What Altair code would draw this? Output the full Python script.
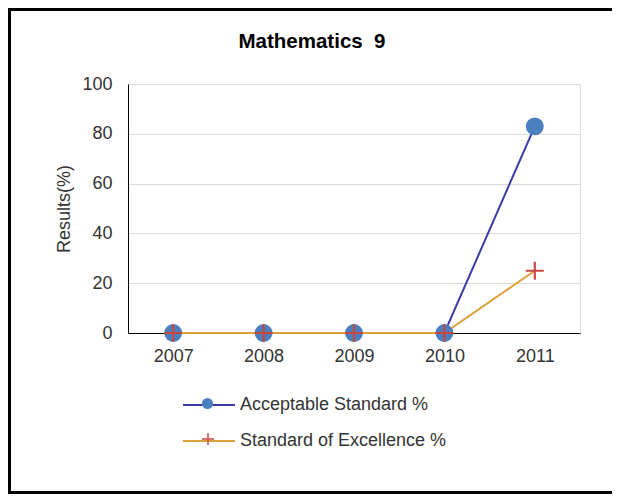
import altair as alt
import pandas as pd

years = ["2007", "2008", "2009", "2010", "2011"]
series_names = ["Acceptable Standard %", "Standard of Excellence %"]
acceptable = [0, 0, 0, 0, 83]
excellence = [0, 0, 0, 0, 25]

rows = []
for i, y in enumerate(years):
    rows.append({"year": y, "series": series_names[0], "value": acceptable[i]})
for i, y in enumerate(years):
    rows.append({"year": y, "series": series_names[1], "value": excellence[i]})
df = pd.DataFrame(rows)
df["circ"] = df["series"]
df["cross"] = df["series"]

FONT = "Liberation Sans"
line_colors = ["#3c3ca6", "#dba23c"]
circle_color = "#4a80c0"
cross_color = "#c8453e"
plus_path = "M-1,-0.12L1,-0.12L1,0.12L-1,0.12Z M-0.12,-1L0.12,-1L0.12,1L-0.12,1Z"

W, H = 452, 249
PL, PT = 120, 76

x_enc = alt.X("year:N", title=None, sort=years,
              scale=alt.Scale(type="point", padding=0.5),
              axis=alt.Axis(labelAngle=0, ticks=False, domainColor="#000000",
                            labelFontSize=18, labelColor="#333333", labelFont=FONT,
                            labelPadding=14, grid=False))
y_enc = alt.Y("value:Q", title="Results(%)",
              scale=alt.Scale(domain=[0, 100], nice=False),
              axis=alt.Axis(values=[0, 20, 40, 60, 80, 100], ticks=False,
                            domainColor="#000000", gridColor="#d9d9d9",
                            labelFontSize=18, labelColor="#333333", labelFont=FONT,
                            labelPadding=16, titleFontSize=18, titleFont=FONT,
                            titleFontWeight="normal", titleColor="#333333",
                            titlePadding=8))

lines = alt.Chart(df).mark_line(strokeWidth=2).encode(
    x=x_enc, y=y_enc,
    stroke=alt.Stroke("series:N", sort=series_names,
                      scale=alt.Scale(domain=series_names, range=line_colors),
                      legend=alt.Legend(orient="none", legendX=54, legendY=294,
                                        title=None, symbolType="M-1,0L1,0",
                                        symbolSize=2704, symbolStrokeWidth=2,
                                        labelFontSize=18, labelFont=FONT,
                                        labelColor="#333333", rowPadding=-2,
                                        padding=0, labelOffset=4, labelLimit=400)),
)

circles = alt.Chart(df).transform_filter(
    alt.datum.series == series_names[0]
).mark_point(filled=True, size=320, opacity=1).encode(
    x=x_enc, y=y_enc,
    fill=alt.Fill("circ:N", scale=alt.Scale(range=[circle_color]),
                  legend=alt.Legend(orient="none", legendX=74, legendY=314, title=None,
                                    symbolSize=121, labelExpr="''", padding=0,
                                    symbolType="circle",
                                    symbolStrokeWidth=0, symbolOpacity=1)),
)

crosses = alt.Chart(df).transform_filter(
    alt.datum.series == series_names[1]
).mark_point(filled=True, size=320, opacity=1, fill=cross_color, color=cross_color).encode(
    x=x_enc, y=y_enc,
    shape=alt.Shape("cross:N", scale=alt.Scale(range=[plus_path]),
                    legend=alt.Legend(orient="none", legendX=74, legendY=349, title=None,
                                      symbolSize=144, labelExpr="''", padding=0,
                                      symbolFillColor=cross_color,
                                      symbolStrokeWidth=0, symbolOpacity=1)),
)

frame_df = pd.DataFrame({"k": [0]})
left_rule = alt.Chart(frame_df).mark_rule(color="#000000", strokeWidth=3).encode(
    x=alt.value(-PL + 1.5), y=alt.value(-PT), y2=alt.value(H + 200))
top_rule = alt.Chart(frame_df).mark_rule(color="#000000", strokeWidth=3).encode(
    x=alt.value(-PL), x2=alt.value(W + 200), y=alt.value(-PT + 1.5))
bottom_rule = alt.Chart(frame_df).mark_rule(color="#000000", strokeWidth=3).encode(
    x=alt.value(-PL), x2=alt.value(W + 200), y=alt.value(486 - PT - 1.5))

chart = alt.layer(lines, circles, crosses, left_rule, top_rule, bottom_rule).properties(
    width=W, height=H,
    title=alt.TitleParams("Mathematics\u00a0 9", fontSize=20.5, font=FONT,
                          fontWeight="bold", color="#000000", anchor="middle",
                          frame="group", offset=-46, dx=-42),
    autosize=alt.AutoSizeParams(type="none"),
    padding={"left": PL, "top": PT, "right": 604 - PL - W, "bottom": 486 - PT - H},
).configure_view(stroke=None).configure(background="white")

chart.save("out.html", embed_options={"renderer": "svg", "actions": False})
